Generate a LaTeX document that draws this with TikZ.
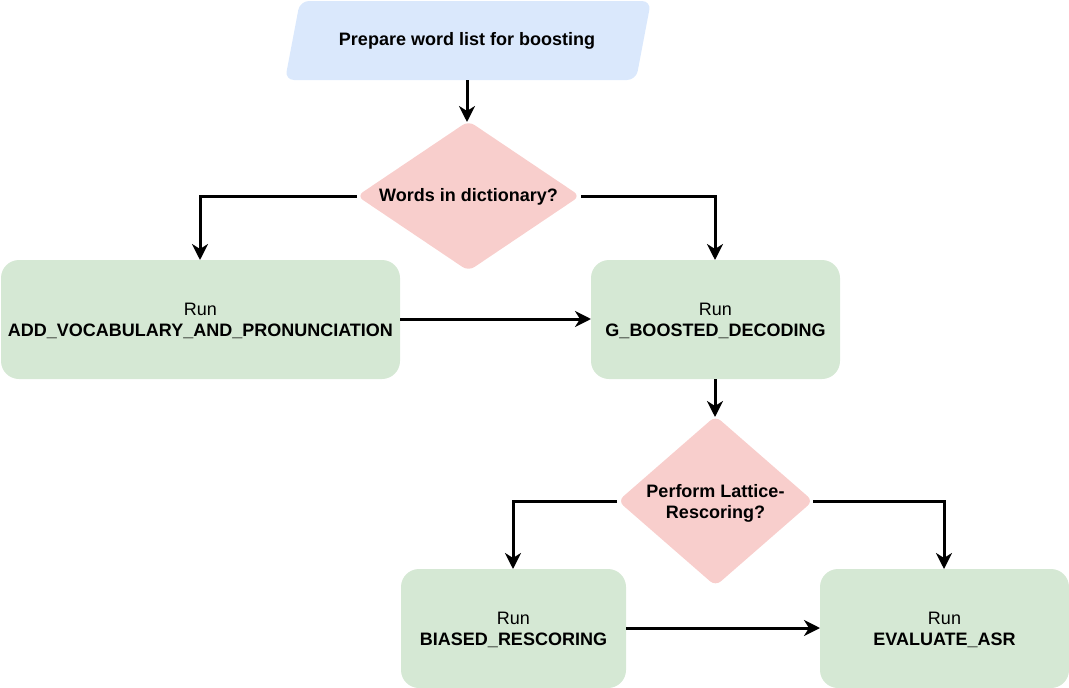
\documentclass[tikz,border=0pt]{standalone}
\usepackage{fontspec}
\setmainfont{Liberation Sans}
\usetikzlibrary{arrows.meta}
\definecolor{cblue}{HTML}{DAE8FC}
\definecolor{cpink}{HTML}{F8CECC}
\definecolor{cgreen}{HTML}{D5E8D4}
\begin{document}
\begin{tikzpicture}[x=1pt,y=-1pt,
  txt/.style={font=\fontsize{18pt}{21pt}\selectfont, align=center, inner sep=0pt},
  procbox/.style={draw=none, fill=cgreen, rounded corners=18pt},
  conn/.style={line width=3pt, -{Stealth[length=16pt,width=16pt,inset=5pt]}}]
\useasboundingbox (0,0) rectangle (1069,688);
% shapes
\fill[cblue, rounded corners=9pt] (300,1) -- (651,1) -- (636,80) -- (285,80) -- cycle;
\node[txt] (prep) at (467,41) {\textbf{Prepare word list for boosting}};
\coordinate (prepB) at (467,80);

\fill[cpink, rounded corners=7pt] (468.5,121) -- (580,196) -- (468.5,271) -- (357,196) -- cycle;
\node[txt] (d1) at (468.5,197) {\textbf{Words in dictionary?}};
\coordinate (d1T) at (467,122);
\coordinate (d1L) at (357,196);
\coordinate (d1R) at (581,196);

\fill[procbox] (1,260) rectangle (400,379);
\node[txt] (b1) at (200.5,321) {Run\\\textbf{ADD\_VOCABULARY\_AND\_PRONUNCIATION}};
\coordinate (b1T) at (200,260);
\coordinate (b1R) at (400,319);

\fill[procbox] (591,260) rectangle (840,379);
\node[txt] (b2) at (715.5,321) {Run\\\textbf{G\_BOOSTED\_DECODING}};
\coordinate (b2T) at (715,260);
\coordinate (b2L) at (591,319);
\coordinate (b2B) at (715,379);

\fill[cpink, rounded corners=7pt] (715.5,416) -- (813,501) -- (715.5,586) -- (618,501) -- cycle;
\node[txt] (d2) at (715.5,503) {\textbf{Perform Lattice-}\\\textbf{Rescoring?}};
\coordinate (d2T) at (715,417);
\coordinate (d2L) at (617,501);
\coordinate (d2R) at (813,501);

\fill[procbox] (401,569) rectangle (626,688);
\node[txt] (b3) at (513.5,630) {Run\\\textbf{BIASED\_RESCORING}};
\coordinate (b3T) at (513,569);
\coordinate (b3R) at (626,628);

\fill[procbox] (820,569) rectangle (1069,688);
\node[txt] (b4) at (944.5,630) {Run\\\textbf{EVALUATE\_ASR}};
\coordinate (b4T) at (944,569);
\coordinate (b4L) at (820,628);

% connectors
\draw[conn] (prepB) -- (d1T);
\draw[conn] (d1L) -| (b1T);
\draw[conn] (d1R) -| (b2T);
\draw[conn] (b1R) -- (b2L);
\draw[conn] (b2B) -- (d2T);
\draw[conn] (d2L) -| (b3T);
\draw[conn] (d2R) -| (b4T);
\draw[conn] (b3R) -- (b4L);
\end{tikzpicture}
\end{document}
